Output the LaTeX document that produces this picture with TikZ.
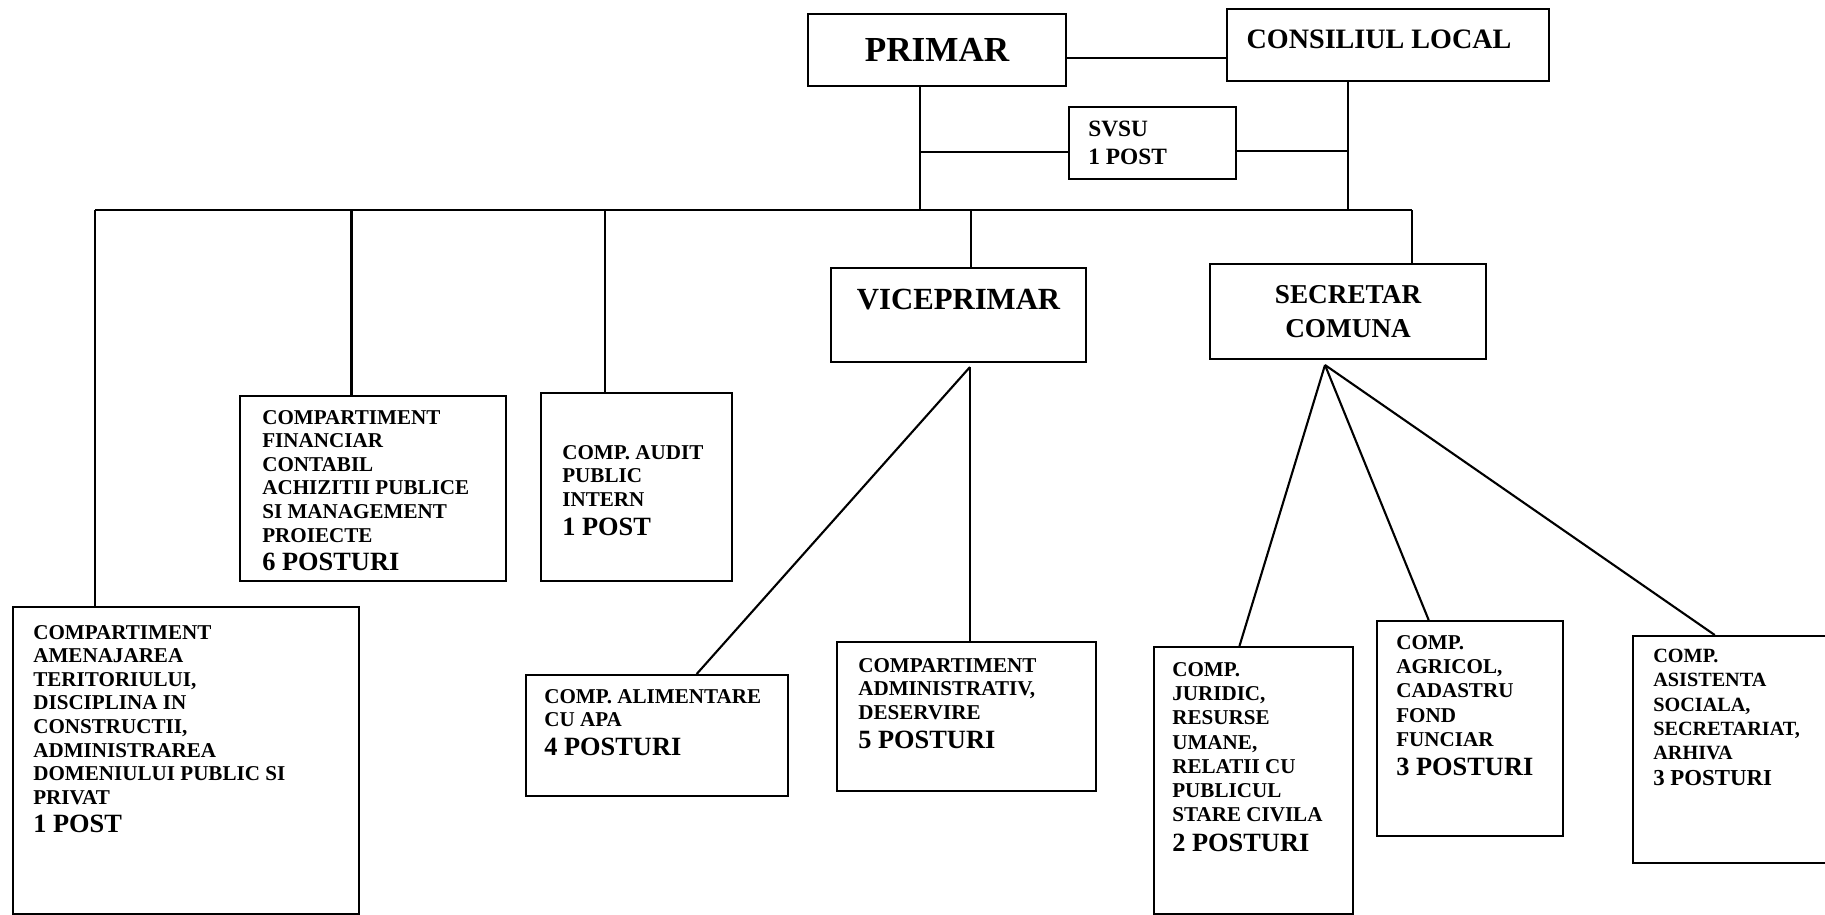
\documentclass[tikz,border=0pt]{standalone}
\usepackage{fontspec}
\setmainfont{Liberation Serif}
\usetikzlibrary{positioning, calc}

\begin{document}
\begin{tikzpicture}[
    cell/.style={draw, line width=1.2pt, rectangle, anchor=north west, inner sep=0pt},
    lbl/.style={anchor=north west, align=left, inner sep=0pt, font=\bfseries\fontsize{12}{13.4}\selectfont},
    head/.style={inner sep=0pt, align=center, font=\bfseries},
    link/.style={line width=1.2pt}
  ]
    \useasboundingbox (0,0) rectangle (36.5,-18.3);

    % top level
    \node[cell, minimum width=5.16cm, minimum height=1.44cm] (prim) at (16.14,-0.26) {};
    \node[cell, minimum width=6.44cm, minimum height=1.44cm] (cons) at (24.52,-0.16) {};
    \node[cell, minimum width=3.34cm, minimum height=1.44cm] (svsu) at (21.36,-2.12) {};
    \node[head, font=\bfseries\fontsize{20}{24}\selectfont] (primt) at (prim.center) {PRIMAR};
    \node[head, font=\bfseries\fontsize{16}{19}\selectfont] (const) at ([shift={(-0.18,0.12)}]cons.center) {CONSILIUL LOCAL};
    \node[lbl, font=\bfseries\fontsize{13.3}{16}\selectfont] (svsut) at ([shift={(0.4,-0.3)}]svsu.north west) {SVSU\\1 POST};

    % second level
    \node[cell, minimum width=5.1cm, minimum height=1.88cm] (vice) at (16.6,-5.34) {};
    \node[cell, minimum width=5.52cm, minimum height=1.9cm] (secr) at (24.18,-5.26) {};
    \node[head, font=\bfseries\fontsize{17.5}{21}\selectfont] (vicet) at ([yshift=0.32cm]vice.center) {VICEPRIMAR};
    \node[head, font=\bfseries\fontsize{15.5}{19}\selectfont] (secrt) at (secr.center) {SECRETAR\\COMUNA};

    % compartimente
    \node[cell, minimum width=5.32cm, minimum height=3.7cm] (fin) at (4.78,-7.9) {};
    \node[cell, minimum width=3.82cm, minimum height=3.76cm] (aud) at (10.8,-7.84) {};
    \node[cell, minimum width=6.92cm, minimum height=6.14cm] (amen) at (0.24,-12.12) {};
    \node[cell, minimum width=5.24cm, minimum height=2.42cm] (alim) at (10.5,-13.48) {};
    \node[cell, minimum width=5.18cm, minimum height=2.98cm] (adm) at (16.72,-12.82) {};
    \node[cell, minimum width=3.98cm, minimum height=5.34cm] (jur) at (23.06,-12.92) {};
    \node[cell, minimum width=3.72cm, minimum height=4.3cm] (agr) at (27.52,-12.4) {};
    \node[cell, minimum width=4.2cm, minimum height=4.54cm] (asis) at (32.64,-12.7) {};

    \node[lbl] (fint) at ([shift={(0.46,-0.3)}]fin.north west)
        {COMPARTIMENT\\FINANCIAR\\CONTABIL\\ACHIZITII PUBLICE\\SI MANAGEMENT\\PROIECTE\\[3pt]{\fontsize{15}{16}\selectfont 6 POSTURI}};
    \node[lbl] (audt) at ([shift={(0.44,-1.06)}]aud.north west)
        {COMP. AUDIT\\PUBLIC\\INTERN\\[3pt]{\fontsize{15}{16}\selectfont 1 POST}};
    \node[lbl] (ament) at ([shift={(0.42,-0.38)}]amen.north west)
        {COMPARTIMENT\\AMENAJAREA\\TERITORIULUI,\\DISCIPLINA IN\\CONSTRUCTII,\\ADMINISTRAREA\\DOMENIULUI PUBLIC SI\\PRIVAT\\[3pt]{\fontsize{15}{16}\selectfont 1 POST}};
    \node[lbl] (alimt) at ([shift={(0.38,-0.3)}]alim.north west)
        {COMP. ALIMENTARE\\CU APA\\[3pt]{\fontsize{15}{16}\selectfont 4 POSTURI}};
    \node[lbl] (admt) at ([shift={(0.44,-0.34)}]adm.north west)
        {COMPARTIMENT\\ADMINISTRATIV,\\DESERVIRE\\[3pt]{\fontsize{15}{16}\selectfont 5 POSTURI}};
    \node[lbl, font=\bfseries\fontsize{12}{13.8}\selectfont] (jurt) at ([shift={(0.38,-0.32)}]jur.north west)
        {COMP.\\JURIDIC,\\RESURSE\\UMANE,\\RELATII CU\\PUBLICUL\\STARE CIVILA\\[3pt]{\fontsize{15}{16}\selectfont 2 POSTURI}};
    \node[lbl, font=\bfseries\fontsize{12}{13.8}\selectfont] (agrt) at ([shift={(0.4,-0.3)}]agr.north west)
        {COMP.\\AGRICOL,\\CADASTRU\\FOND\\FUNCIAR\\[3pt]{\fontsize{15}{16}\selectfont 3 POSTURI}};
    \node[lbl, font=\bfseries\fontsize{11.5}{13.8}\selectfont] (asist) at ([shift={(0.42,-0.28)}]asis.north west)
        {COMP.\\ASISTENTA\\SOCIALA,\\SECRETARIAT,\\ARHIVA\\[1pt]{\fontsize{13}{14}\selectfont 3 POSTURI}};

    % junctions
    \coordinate (pc) at (20,-1.16);
    \coordinate (sL) at (18.4,-3.04);
    \coordinate (sR) at (26.96,-3.02);
    \coordinate (jAmen) at (1.9,-4.2);
    \coordinate (jFin) at (7.03,-4.2);
    \coordinate (jAud) at (12.1,-4.2);
    \coordinate (jPrim) at (18.4,-4.2);
    \coordinate (jVice) at (19.42,-4.2);
    \coordinate (jCons) at (26.96,-4.2);
    \coordinate (jSecr) at (28.24,-4.2);
    \coordinate (vLow) at (19.4,-7.34);
    \coordinate (sLow) at (26.5,-7.3);

    \draw[link] (prim.east |- pc) -- (cons.west |- pc);
    \draw[link] (jPrim |- prim.south) -- (jPrim);
    \draw[link] (jCons |- cons.south) -- (jCons);
    \draw[link] (sL) -- (sL -| svsu.west);
    \draw[link] (svsu.east |- sR) -- (sR);

    \draw[link] (jAmen) -- (jSecr);
    \draw[link] (jAmen) -- (jAmen |- amen.north);
    \draw[link] (jFin) -- (jFin |- fin.north);
    \draw[link] (jAud) -- (jAud |- aud.north);
    \draw[link] (jVice) -- (jVice |- vice.north);
    \draw[link] (jSecr) -- (jSecr |- secr.north);

    \draw[link] (vLow) -- ($(alim.north west)!0.65!(alim.north east)$);
    \draw[link] (vLow) -- (vLow |- adm.north);

    \draw[link] (sLow) -- ($(jur.north west)!0.43!(jur.north east)$);
    \draw[link] (sLow) -- ($(agr.north west)!0.28!(agr.north east)$);
    \draw[link] (sLow) -- ($(asis.north west)!0.39!(asis.north east)$);

  \end{tikzpicture}
\end{document}
